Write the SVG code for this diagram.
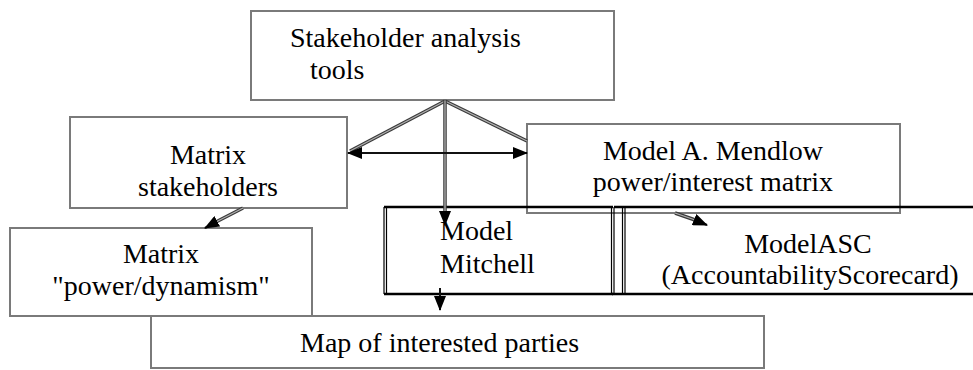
<svg xmlns="http://www.w3.org/2000/svg" width="973" height="370" viewBox="0 0 973 370">
  <style>
    .box { fill: #ffffff; stroke: #7a7a7a; stroke-width: 2; }
    .dbl { fill: none; stroke: #000000; stroke-width: 1.2; }
    .edge { fill: none; stroke: #000000; stroke-width: 2.5; }
    .wire-out { fill: none; stroke: #3a3a3a; stroke-width: 3.5; }
    .wire-in { fill: none; stroke: #b0b0b0; stroke-width: 1.3; }
    .line { fill: none; stroke: #111111; stroke-width: 2; }
  </style>
  <defs>
    <marker id="head" markerUnits="userSpaceOnUse" markerWidth="16" markerHeight="12" refX="14" refY="6" orient="auto">
      <path d="M0,0 L15,6 L0,12 z" fill="#000000"/>
    </marker>
  </defs>

  <g id="node-tools">
    <rect class="box" x="251" y="11" width="363" height="89"/>
    <text x="290" y="47" font-family="Liberation Serif" font-size="28">Stakeholder analysis</text>
    <text x="310" y="79" font-family="Liberation Serif" font-size="28">tools</text>
  </g>

  <g id="node-matrix-stakeholders">
    <rect class="box" x="70" y="117" width="277" height="91"/>
    <text x="208" y="164" text-anchor="middle" font-family="Liberation Serif" font-size="28">Matrix</text>
    <text x="208" y="196" text-anchor="middle" font-family="Liberation Serif" font-size="28">stakeholders</text>
  </g>

  <g id="node-mendlow">
    <rect class="box" x="527" y="124" width="373" height="89"/>
    <text x="713" y="160" text-anchor="middle" font-family="Liberation Serif" font-size="28">Model A. Mendlow</text>
    <text x="713" y="191" text-anchor="middle" font-family="Liberation Serif" font-size="28">power/interest matrix</text>
  </g>

  <g id="node-power-dynamism">
    <rect class="box" x="10" y="228" width="302" height="88"/>
    <text x="161" y="263" text-anchor="middle" font-family="Liberation Serif" font-size="28">Matrix</text>
    <text x="161" y="295" text-anchor="middle" font-family="Liberation Serif" font-size="28">"power/dynamism"</text>
  </g>

  <g id="node-mitchell">
    <line class="edge" x1="384" y1="207" x2="613" y2="207"/>
    <line class="edge" x1="384" y1="294" x2="613" y2="294"/>
    <line class="dbl" x1="384" y1="207" x2="384" y2="294"/>
    <line class="dbl" x1="386.5" y1="207" x2="386.5" y2="294"/>
    <line class="dbl" x1="611.5" y1="207" x2="611.5" y2="294"/>
    <line class="dbl" x1="614" y1="207" x2="614" y2="294"/>
    <text x="440" y="240" font-family="Liberation Serif" font-size="28">Model</text>
    <text x="440" y="273" font-family="Liberation Serif" font-size="28">Mitchell</text>
  </g>

  <g id="node-asc">
    <line class="edge" x1="614" y1="207" x2="973" y2="207"/>
    <line class="edge" x1="612" y1="294" x2="973" y2="294"/>
    <line class="dbl" x1="622.5" y1="207" x2="622.5" y2="294"/>
    <line class="dbl" x1="625" y1="207" x2="625" y2="294"/>
    <text x="808" y="253" text-anchor="middle" font-family="Liberation Serif" font-size="28">ModelASC</text>
    <text x="810" y="284" text-anchor="middle" font-family="Liberation Serif" font-size="28">(AccountabilityScorecard)</text>
  </g>

  <g id="node-map">
    <rect class="box" x="151" y="316" width="613" height="52"/>
    <text x="300" y="352" font-family="Liberation Serif" font-size="28">Map of interested parties</text>
  </g>

  <g id="connectors">
    <!-- diagonals from the top box -->
    <line class="wire-out" x1="445" y1="101" x2="350" y2="151"/>
    <line class="wire-in" x1="445" y1="101" x2="350" y2="151"/>
    <line class="wire-out" x1="445" y1="101" x2="527" y2="141"/>
    <line class="wire-in" x1="445" y1="101" x2="527" y2="141"/>
    <!-- vertical to Mitchell -->
    <line class="wire-out" x1="445" y1="101" x2="445" y2="214"/>
    <line class="wire-in" x1="445" y1="101" x2="445" y2="214"/>
    <line class="line" x1="445" y1="212" x2="445" y2="225" marker-end="url(#head)"/>
    <!-- two-way horizontal -->
    <line class="line" x1="440" y1="153" x2="348" y2="153" marker-end="url(#head)"/>
    <line class="line" x1="440" y1="153" x2="527" y2="153" marker-end="url(#head)"/>
    <!-- matrix stakeholders to power/dynamism -->
    <line class="wire-out" x1="243" y1="208" x2="212" y2="224"/>
    <line class="wire-in" x1="243" y1="208" x2="212" y2="224"/>
    <line class="line" x1="216" y1="222" x2="205" y2="228" marker-end="url(#head)"/>
    <!-- Mendlow to ASC -->
    <line class="wire-out" x1="675" y1="213" x2="698" y2="221"/>
    <line class="wire-in" x1="675" y1="213" x2="698" y2="221"/>
    <line class="line" x1="695" y1="220" x2="707" y2="225" marker-end="url(#head)"/>
    <!-- Mitchell to map -->
    <line class="line" x1="440" y1="288" x2="440" y2="310" marker-end="url(#head)"/>
  </g>
</svg>
